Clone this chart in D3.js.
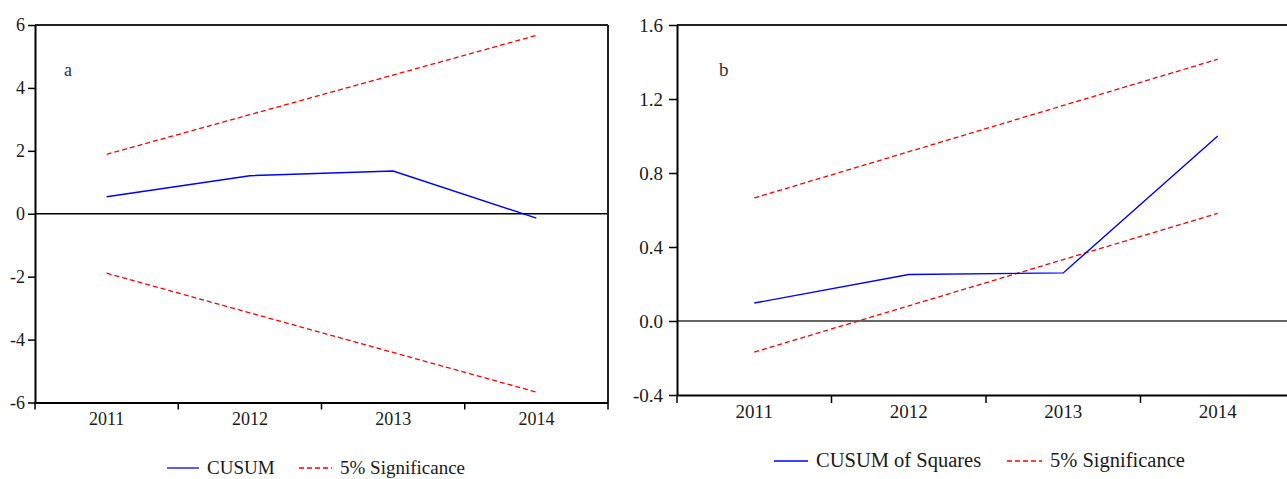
<!DOCTYPE html>
<html>
<head>
<meta charset="utf-8">
<script src="https://cdn.jsdelivr.net/npm/d3@7"></script>
<style>
  body { margin: 0; background: #fff; }
  svg { display: block; }
  svg text { font-family: "Liberation Serif", "Times New Roman", serif; }
</style>
</head>
<body>
<svg id="chart" width="1287" height="479"></svg>
<script>
// years on the x axis (both panels)
var years = ["2011", "2012", "2013", "2014"];

// panel a: CUSUM and its 5% bands
var cusum      = [0.54, 1.21, 1.36, -0.14];
var cusumUpper = [1.89, 3.15, 4.41, 5.67];
var cusumLower = [-1.89, -3.15, -4.41, -5.67];
var ticksA     = [-6, -4, -2, 0, 2, 4, 6];

// panel b: CUSUM of squares and its 5% bands
var cusumSq = [0.097, 0.251, 0.26, 1.0];
var sqUpper = [0.665, 0.915, 1.165, 1.415];
var sqLower = [-0.168, 0.082, 0.332, 0.582];
var ticksB  = [-0.4, 0.0, 0.4, 0.8, 1.2, 1.6];

var svg = d3.select("#chart");

// plain hyphen instead of d3's unicode minus
var hyphen = function(f) {
	return function(d) { return f(d).replace("\u2212", "-"); };
};

var drawPanel = function(p) {
	var g = svg.append("g");
	var x = d3.scaleBand().domain(years).range([p.left, p.right]).padding(0);
	var y = d3.scaleLinear().domain(p.domain).range([p.bottom, p.top]);
	var cx = function(i) { return x(years[i]) + x.bandwidth() / 2; };

	// zero line
	g.append("line")
		.attr("x1", p.left).attr("x2", p.right)
		.attr("y1", y(0)).attr("y2", y(0))
		.attr("stroke", p.zeroColor).attr("stroke-width", 1.3);

	var line = d3.line()
		.x(function(d, i) { return cx(i); })
		.y(function(d) { return y(d); });

	[p.upper, p.lower].forEach(function(s) {
		g.append("path").datum(s)
			.attr("d", line)
			.attr("fill", "none")
			.attr("stroke", "#ff0000")
			.attr("stroke-width", 1.3)
			.attr("stroke-dasharray", "5,3");
	});
	g.append("path").datum(p.main)
		.attr("d", line)
		.attr("fill", "none")
		.attr("stroke", "#0000ff")
		.attr("stroke-width", 1.4);

	// frame: top and right
	g.append("line")
		.attr("x1", p.left).attr("x2", p.right)
		.attr("y1", p.top).attr("y2", p.top)
		.attr("stroke", "#222").attr("stroke-width", 2);
	g.append("line")
		.attr("x1", p.right).attr("x2", p.right)
		.attr("y1", p.top).attr("y2", p.bottom)
		.attr("stroke", "#222").attr("stroke-width", 2);

	// left axis
	var ya = g.append("g")
		.attr("transform", "translate(" + p.left + ",0)")
		.call(d3.axisLeft(y).tickValues(p.ticks).tickFormat(hyphen(p.fmt))
			.tickSize(p.tick).tickSizeOuter(0).tickPadding(p.pad));
	ya.attr("font-family", null);
	ya.select(".domain").attr("stroke", "#000").attr("stroke-width", 2);
	ya.selectAll(".tick line").attr("stroke", "#000").attr("stroke-width", 1.5);
	ya.selectAll("text").attr("font-size", p.font + "px").attr("fill", "#1a1a1a");

	// bottom axis: labels centred in bands, ticks on band edges
	var xa = g.append("g")
		.attr("transform", "translate(0," + p.bottom + ")")
		.call(d3.axisBottom(x).tickSize(0).tickPadding(p.xpad).tickSizeOuter(0));
	xa.attr("font-family", null);
	xa.select(".domain").attr("stroke", "#000").attr("stroke-width", 2);
	xa.selectAll("text").attr("font-size", p.font + "px").attr("fill", "#1a1a1a");
	var edges = years.map(function(d) { return x(d); }).concat([p.right]);
	xa.selectAll(".edge").data(edges).enter().append("line")
		.attr("class", "edge")
		.attr("x1", function(d) { return d; }).attr("x2", function(d) { return d; })
		.attr("y1", 0).attr("y2", p.tick)
		.attr("stroke", "#000").attr("stroke-width", 1.5);

	// panel letter
	g.append("text")
		.attr("x", p.left + p.letterDx).attr("y", p.top + 51)
		.attr("font-size", p.font + "px").attr("fill", "#333")
		.text(p.letter);

	// legend
	var lg = g.append("g").attr("font-size", p.legendFont + "px").attr("fill", "#1a1a1a");
	p.legend.forEach(function(item) {
		lg.append("line")
			.attr("x1", item.x).attr("x2", item.x + item.w)
			.attr("y1", p.legendY - 6).attr("y2", p.legendY - 6)
			.attr("stroke", item.color).attr("stroke-width", 1.3)
			.attr("stroke-dasharray", item.dash);
		lg.append("text")
			.attr("x", item.x + item.w + 8).attr("y", p.legendY)
			.text(item.label);
	});
};

drawPanel({
	left: 35, right: 608, top: 25, bottom: 402.5,
	domain: [-6, 6], ticks: ticksA, fmt: d3.format("d"),
	main: cusum, upper: cusumUpper, lower: cusumLower,
	zeroColor: "#000", tick: 7, pad: 3, xpad: 10, font: 18,
	letter: "a", letterDx: 29,
	legendFont: 19, legendY: 474,
	legend: [
		{x: 167, w: 32, color: "#0000ff", dash: null, label: "CUSUM"},
		{x: 299, w: 33, color: "#ff0000", dash: "5,3", label: "5% Significance"}
	]
});

drawPanel({
	left: 677, right: 1295, top: 25, bottom: 395,
	domain: [-0.4, 1.6], ticks: ticksB, fmt: d3.format(".1f"),
	main: cusumSq, upper: sqUpper, lower: sqLower,
	zeroColor: "#333", tick: 8, pad: 6, xpad: 10, font: 19,
	letter: "b", letterDx: 42,
	legendFont: 20.5, legendY: 467,
	legend: [
		{x: 774, w: 34, color: "#0000ff", dash: null, label: "CUSUM of Squares"},
		{x: 1007, w: 35, color: "#ff0000", dash: "5,3", label: "5% Significance"}
	]
});
</script>
</body>
</html>
